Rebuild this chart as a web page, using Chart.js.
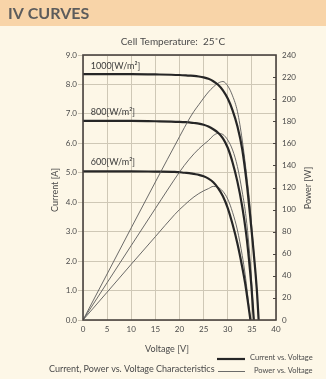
<!DOCTYPE html>
<html>
<head>
<meta charset="utf-8">
<script src="https://cdn.jsdelivr.net/npm/chart.js@4.4.1/dist/chart.umd.min.js"></script>
<style>
  html, body { margin: 0; padding: 0; background: #FDF7E7; }
  #wrap { width: 326px; height: 379px; position: relative; }
</style>
</head>
<body>
<div id="wrap"><canvas id="iv"></canvas></div>
<script>
// Irradiance levels
const irradiance = ['1000', '800', '600'];

// 1000 W/m2
const voltage1000 = [0, 5, 10, 15, 20, 22, 23, 24, 25, 26, 27, 28, 29, 30, 31, 32, 33, 34, 34.6, 35.2, 35.7, 36.1, 36.4];
const current1000 = [8.35, 8.35, 8.35, 8.34, 8.32, 8.30, 8.29, 8.27, 8.24, 8.19, 8.11, 7.99, 7.80, 7.52, 7.12, 6.58, 5.80, 4.55, 3.60, 2.60, 1.70, 0.85, 0];
const power1000   = [0, 41.7, 83.5, 125, 166, 182, 189, 195, 201, 206.5, 211, 214.5, 216, 212, 203, 189, 163, 128, 104, 72, 45, 22, 0];

// 800 W/m2
const voltage800 = [0, 5, 10, 15, 20, 21, 22, 23, 24, 25, 26, 27, 28, 29, 30, 31, 32, 33, 33.8, 34.4, 34.9, 35.4];
const current800 = [6.76, 6.76, 6.76, 6.75, 6.73, 6.72, 6.71, 6.69, 6.67, 6.63, 6.57, 6.48, 6.36, 6.17, 5.85, 5.35, 4.70, 3.85, 2.95, 2.05, 1.15, 0];
const power800   = [0, 33.8, 67.5, 101, 134, 140, 145.5, 150.5, 155, 159, 162.5, 167, 169, 168, 163, 154, 139, 116, 93, 67, 38, 0];

// 600 W/m2
const voltage600 = [0, 5, 10, 15, 19, 20, 21, 22, 23, 24, 25, 26, 27, 28, 29, 30, 31, 32, 33, 33.6, 34.1, 34.7];
const current600 = [5.05, 5.05, 5.05, 5.04, 5.03, 5.02, 5.00, 4.99, 4.96, 4.93, 4.88, 4.80, 4.68, 4.48, 4.20, 3.80, 3.25, 2.60, 1.80, 1.25, 0.70, 0];
const power600   = [0, 25.2, 50.5, 75.5, 95.5, 100, 104, 108, 111.5, 114.5, 117, 119, 121, 120, 116.5, 109.5, 97.5, 81.5, 58.5, 41.5, 23.5, 0];

// Curve label anchors: [voltage, current]
const labelPos = { '1000': [1.6, 8.62], '800': [1.6, 7.05], '600': [1.6, 5.35] };

// Axis ranges and ticks
const xTicks = [0, 5, 10, 15, 20, 25, 30, 35, 40];
const currentMax = 9, currentStep = 1;
const powerMax = 240, powerStep = 20;

const FONT = 'Lato, "Open Sans", sans-serif';
const INK = '#4a4a4a';

const toPoints = (xs, ys) => xs.map((x, i) => ({ x, y: ys[i] }));

const series = {
  '1000': { v: voltage1000, i: current1000, p: power1000 },
  '800':  { v: voltage800,  i: current800,  p: power800 },
  '600':  { v: voltage600,  i: current600,  p: power600 }
};

const datasets = [];
irradiance.forEach(level => {
  const s = series[level];
  datasets.push({
    label: 'Current ' + level,
    data: toPoints(s.v, s.i),
    yAxisID: 'yI',
    borderColor: '#262626',
    borderWidth: 2.2,
    pointRadius: 0,
    cubicInterpolationMode: 'monotone',
    fill: false
  });
  datasets.push({
    label: 'Power ' + level,
    data: toPoints(s.v, s.p),
    yAxisID: 'yP',
    borderColor: '#5a5a5a',
    borderWidth: 0.9,
    pointRadius: 0,
    cubicInterpolationMode: 'monotone',
    fill: false
  });
});

const decorations = {
  id: 'decorations',
  beforeDraw(chart) {
    const ctx = chart.ctx;
    ctx.save();
    ctx.fillStyle = '#FDF7E7';
    ctx.fillRect(0, 0, chart.width, chart.height);
    ctx.fillStyle = '#F8D4A8';
    ctx.fillRect(0, 0, chart.width, 26);
    ctx.fillStyle = '#5c5c5c';
    ctx.font = 'bold 16px ' + FONT;
    ctx.textBaseline = 'alphabetic';
    ctx.textAlign = 'left';
    ctx.fillText('IV CURVES', 8, 19);
    ctx.restore();
  },
  afterDatasetsDraw(chart) {
    const ctx = chart.ctx;
    const a = chart.chartArea;
    const sx = chart.scales.x, sy = chart.scales.yI, sp = chart.scales.yP;
    ctx.save();
    // frame
    ctx.strokeStyle = '#4a4440';
    ctx.lineWidth = 1.6;
    ctx.strokeRect(a.left, a.top, a.right - a.left, a.bottom - a.top);
    // inward ticks on the power axis
    ctx.lineWidth = 1;
    for (let w = powerStep; w < powerMax; w += powerStep) {
      const y = Math.round(sp.getPixelForValue(w)) + 0.5;
      ctx.beginPath();
      ctx.moveTo(a.right - 3, y);
      ctx.lineTo(a.right, y);
      ctx.stroke();
    }
    // irradiance labels
    ctx.fillStyle = '#3a3a3a';
    ctx.font = '9px ' + FONT;
    ctx.textAlign = 'left';
    ctx.textBaseline = 'middle';
    irradiance.forEach(level => {
      const [v, i] = labelPos[level];
      ctx.fillText(level + '[W/m\u00B2]', sx.getPixelForValue(v), sy.getPixelForValue(i));
    });

    ctx.fillStyle = INK;
    // header line above the plot
    ctx.font = '10px ' + FONT;
    ctx.textAlign = 'center';
    ctx.fillText('Cell Temperature:  25\u02DAC', 173, 42);
    // axis titles
    ctx.font = '9px ' + FONT;
    ctx.fillText('Voltage [V]', 167, 349);
    ctx.save();
    ctx.translate(55, 190);
    ctx.rotate(-Math.PI / 2);
    ctx.fillText('Current [A]', 0, 0);
    ctx.restore();
    ctx.save();
    ctx.translate(308, 188);
    ctx.rotate(-Math.PI / 2);
    ctx.fillText('Power [W]', 0, 0);
    ctx.restore();
    // caption
    ctx.textAlign = 'left';
    ctx.font = '9px ' + FONT;
    ctx.fillText('Current, Power vs. Voltage Characteristics', 49, 369);
    // legend
    ctx.strokeStyle = '#262626';
    ctx.lineWidth = 2.2;
    ctx.beginPath(); ctx.moveTo(217, 359); ctx.lineTo(245, 359); ctx.stroke();
    ctx.strokeStyle = '#5a5a5a';
    ctx.lineWidth = 0.9;
    ctx.beginPath(); ctx.moveTo(218, 371.5); ctx.lineTo(245, 371.5); ctx.stroke();
    ctx.font = '7.5px ' + FONT;
    ctx.fillText('Current vs. Voltage', 250, 358);
    ctx.fillText('Power vs. Voltage', 254, 371);
    ctx.restore();
  }
};

new Chart(document.getElementById('iv'), {
  type: 'line',
  data: { datasets },
  options: {
    responsive: true,
    maintainAspectRatio: false,
    animation: false,
    layout: { padding: { top: 55, left: 0, right: 0, bottom: 0 } },
    plugins: { legend: { display: false }, tooltip: { enabled: false } },
    scales: {
      x: {
        type: 'linear',
        min: xTicks[0],
        max: xTicks[xTicks.length - 1],
        afterBuildTicks: s => { s.ticks = xTicks.map(v => ({ value: v })); },
        afterFit: s => { s.height = 59; },
        grid: { color: '#cfc8b6', lineWidth: 1, drawTicks: false },
        border: { display: false },
        ticks: { color: INK, font: { family: FONT, size: 8 }, padding: 5, maxRotation: 0 }
      },
      yI: {
        type: 'linear',
        position: 'left',
        min: 0,
        max: currentMax,
        afterFit: s => { s.width = 83; },
        grid: { color: '#cfc8b6', lineWidth: 1, tickLength: 5 },
        border: { display: false },
        ticks: {
          stepSize: currentStep,
          color: INK,
          font: { family: FONT, size: 8 },
          padding: 1,
          callback: v => v.toFixed(1)
        }
      },
      yP: {
        type: 'linear',
        position: 'right',
        min: 0,
        max: powerMax,
        afterFit: s => { s.width = 50; },
        grid: { drawOnChartArea: false, drawTicks: false },
        border: { display: false },
        ticks: { stepSize: powerStep, color: INK, font: { family: FONT, size: 8 }, padding: 6 }
      }
    }
  },
  plugins: [decorations]
});
</script>
</body>
</html>
